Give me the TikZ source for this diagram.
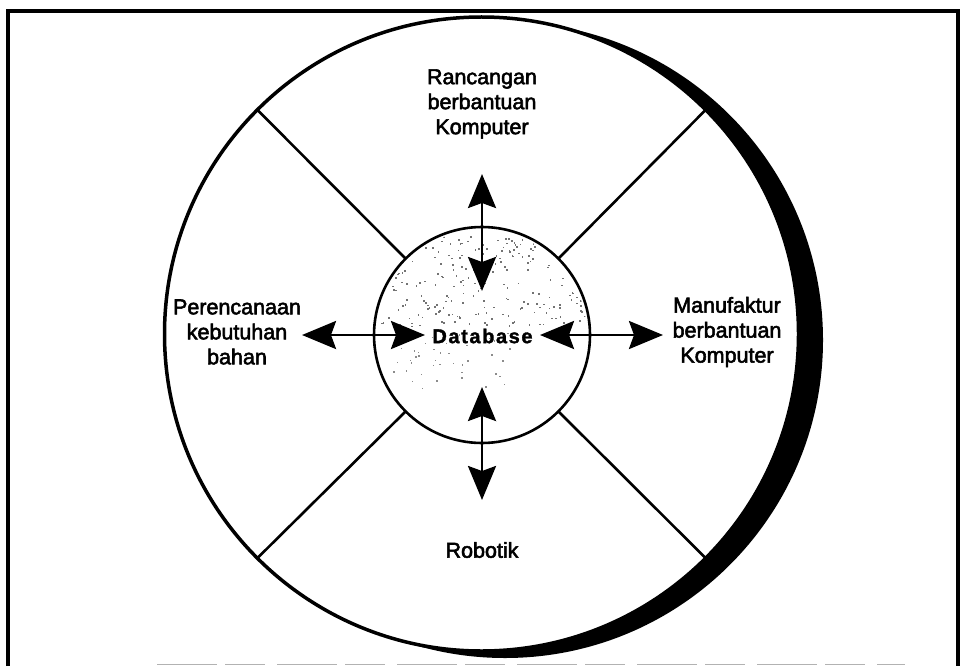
\documentclass[tikz,border=0pt]{standalone}
\usepackage{fontspec}
\setmainfont{Liberation Sans}
\usetikzlibrary{arrows.meta,calc}
\begin{document}
\begin{tikzpicture}[x=1pt,y=-1pt,
  frame/.style={line width=3.5pt},
  divider/.style={line width=2.6pt},
  dbl/.style={line width=2.8pt,{Stealth[length=34pt,width=28pt,inset=5pt]}-{Stealth[length=34pt,width=28pt,inset=5pt]}},
  lbl/.style={align=center,font=\fontsize{21.5}{25}\selectfont\addfontfeatures{FakeBold=2.5},inner sep=0pt},
  dbtext/.style={font=\fontsize{20}{22}\selectfont\bfseries\addfontfeatures{LetterSpace=8,FakeBold=1.5},inner sep=0pt}]
\useasboundingbox (0,0) rectangle (965,666);
% frame
\draw[frame] (8,666) -- (8,11) -- (958,11) -- (958,666);
\draw[gray!60,line width=1pt,dash pattern=on 60pt off 8pt on 40pt off 12pt] (157,664) -- (905,664);
% outer disc with shadow
\coordinate (oc) at (481.5,334);
\fill[black] (505,340) circle (318);
\draw[line width=3.5pt,fill=white] (oc) circle (317);
% dividers
\coordinate (c) at (482,335);
\foreach \a/\n in {45/a,135/b,225/d,315/e}{
  \coordinate (in\n) at ($(c)+(\a:108)$);
  \coordinate (out\n) at ($(oc)+(\a:316)$);
}
\draw[divider] (ina) -- (outa);
\draw[divider] (inb) -- (outb);
\draw[divider] (ind) -- (outd);
\draw[divider] (ine) -- (oute);
% inner circle
\node[circle,draw,line width=2.6pt,fill=white,minimum size=216pt,inner sep=0pt] (db) at (c) {};
\begin{scope}
\clip (c) circle (105);
\pgfmathsetseed{12}
\foreach \i in {1,...,260}{
  \pgfmathsetmacro\xx{378+rnd*210}
  \pgfmathsetmacro\yy{236+(rnd)^1.4*90}
  \fill[black!55] (\xx,\yy) rectangle ++(1.6,1.6);
}
\foreach \i in {1,...,40}{
  \pgfmathsetmacro\xx{390+rnd*120}
  \pgfmathsetmacro\yy{330+rnd*60}
  \fill[black!45] (\xx,\yy) rectangle ++(1.4,1.4);
}
\end{scope}
\node[dbtext] (dbl) at (482.5,336) {Database};
% labels
\node[lbl] (cad) at (482,104) {Rancangan\\berbantuan\\Komputer};
\node[lbl] (mrp) at (237,332) {Perencanaan\\kebutuhan\\bahan};
\node[lbl] (cam) at (727,332) {Manufaktur\\berbantuan\\Komputer};
\node[lbl] (rob) at (482,550) {Robotik};
% arrows
\coordinate (t1) at (482,174);
\coordinate (t2) at (482,291);
\coordinate (l1) at (302,335);
\coordinate (l2) at (425,335);
\coordinate (r1) at (540,335);
\coordinate (r2) at (663,335);
\coordinate (b1) at (482,387);
\coordinate (b2) at (482,500);
\draw[dbl] (t1) -- (t2);
\draw[dbl] (l1) -- (l2);
\draw[dbl] (r1) -- (r2);
\draw[dbl] (b1) -- (b2);
\end{tikzpicture}
\end{document}
